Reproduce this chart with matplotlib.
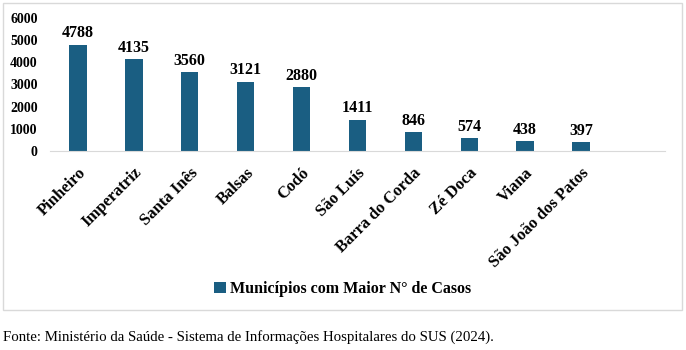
import matplotlib.pyplot as plt
from matplotlib.patches import Rectangle

municipios = ['Pinheiro', 'Imperatriz', 'Santa Inês', 'Balsas', 'Codó', 'São Luís',
              'Barra do Corda', 'Zé Doca', 'Viana', 'São João dos Patos']
casos = [4788, 4135, 3560, 3121, 2880, 1411, 846, 574, 438, 397]
serie = 'Municípios com Maior N° de Casos'
fonte = 'Fonte: Ministério da Saúde - Sistema de Informações Hospitalares do SUS (2024).'

plt.rcParams['font.family'] = ['Liberation Serif', 'DejaVu Serif']

fig = plt.figure(figsize=(6.86, 3.5), dpi=100)
ax = fig.add_axes([0.073, 0.569, 0.896, 0.38])

cor = '#1a5e82'
x = list(range(len(municipios)))
bars = ax.bar(x, casos, width=0.31, color=cor, label=serie)
for xi, v in zip(x, casos):
    ax.text(xi, v + 150, str(v), ha='center', va='bottom', fontsize=11.5, fontweight='bold')

ax.set_xlim(-0.5, 10.5)
ax.set_ylim(0, 6000)
ax.set_yticks(range(0, 6001, 1000))
ax.set_xticks(x)
ax.set_xticklabels(municipios, rotation=45, ha='right', rotation_mode='anchor',
                   fontsize=12, fontweight='bold')
for lab in ax.get_yticklabels():
    lab.set_fontweight('bold')
    lab.set_fontsize(10)
ax.tick_params(length=0)
ax.tick_params(axis='y', pad=9)
ax.tick_params(axis='x', pad=10)
for s in ['top', 'right', 'left']:
    ax.spines[s].set_visible(False)
ax.spines['bottom'].set_color('#d9d9d9')

leg = fig.legend(handles=[bars], labels=[serie], loc='center', bbox_to_anchor=(0.5, 0.174),
                 frameon=False, handlelength=0.7, handleheight=0.7, handletextpad=0.3,
                 prop={'weight': 'bold', 'size': 11.5})

fig.patches.append(Rectangle((0.004, 0.114), 0.99, 0.878, transform=fig.transFigure,
                             fill=False, edgecolor='#d9d9d9', linewidth=1))
fig.text(0.004, 0.037, fonte, fontsize=10.7, ha='left', va='center')

fig.savefig('out.png', dpi=100)
